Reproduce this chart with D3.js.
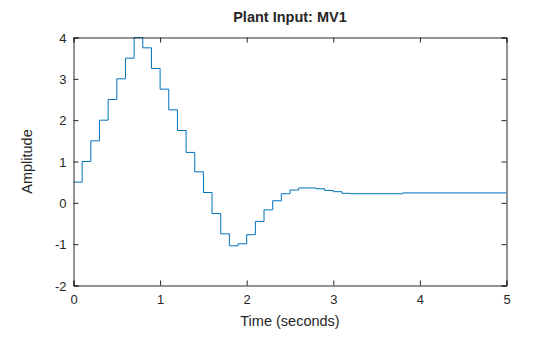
<!DOCTYPE html>
<html><head><meta charset="utf-8">
<script src="https://cdn.jsdelivr.net/npm/d3@7"></script>
<style>body{margin:0;background:#fff}svg{display:block}text{font-family:"Liberation Sans",Arial,sans-serif;fill:#262626}</style>
</head><body>
<svg id="c" width="560" height="337"></svg>
<script>
const stepTimes = [0,0.1,0.2,0.3,0.4,0.5,0.6,0.7,0.8,0.9,1.0,1.1,1.2,1.3,1.4,1.5,1.6,1.7,1.8,1.9,2.0,2.1,2.2,2.3,2.4,2.5,2.6,2.7,2.8,2.9,3.0,3.1,3.2,3.3,3.4,3.5,3.6,3.7,3.8,5.0];
const mv1 = [0.5,1.0,1.5,2.0,2.5,3.0,3.5,4.0,3.75,3.25,2.75,2.25,1.75,1.22,0.75,0.25,-0.26,-0.75,-1.04,-0.99,-0.77,-0.45,-0.17,0.05,0.22,0.31,0.36,0.36,0.34,0.30,0.27,0.23,0.22,0.22,0.22,0.22,0.22,0.22,0.24,0.24];
const xTicks = [0,1,2,3,4,5];
const yTicks = [-2,-1,0,1,2,3,4];
const title = "Plant Input: MV1";
const xLabel = "Time (seconds)";
const yLabel = "Amplitude";

const svg = d3.select("#c");
const L=73.5, R=506.5, T=37.5, B=285.5;
const x = d3.scaleLinear().domain([0,5]).range([L,R]);
const y = d3.scaleLinear().domain([-2,4]).range([B,T]);
const ax = "#262626";
const fmt = d => String(d);

const data = stepTimes.map((t,i)=>({t, v: mv1[i]}));
svg.append("defs").append("clipPath").attr("id","clip").append("rect")
  .attr("x",L).attr("y",T-1).attr("width",R-L).attr("height",B-T+2);
svg.append("path").datum(data)
  .attr("clip-path","url(#clip)")
  .attr("fill","none").attr("stroke","#0072BD").attr("stroke-width",1)
  .attr("d", d3.line().x(d=>x(d.t)).y(d=>y(d.v)).curve(d3.curveStepAfter));

const tl = 5;
const gb = svg.append("g").attr("transform",`translate(0,${B})`)
  .call(d3.axisBottom(x).tickValues(xTicks).tickSize(-tl).tickPadding(7).tickFormat(fmt));
const gt = svg.append("g").attr("transform",`translate(0,${T})`)
  .call(d3.axisTop(x).tickValues(xTicks).tickSize(-tl).tickFormat(""));
const gl = svg.append("g").attr("transform",`translate(${L},0)`)
  .call(d3.axisLeft(y).tickValues(yTicks).tickSize(-tl).tickPadding(7).tickFormat(fmt));
const gr = svg.append("g").attr("transform",`translate(${R},0)`)
  .call(d3.axisRight(y).tickValues(yTicks).tickSize(-tl).tickFormat(""));
[gb,gt,gl,gr].forEach(g=>{
  g.selectAll(".domain").attr("stroke",ax).attr("stroke-width",1);
  g.selectAll(".tick line").attr("stroke",ax);
  g.selectAll("text").attr("font-size",13).attr("fill",ax).attr("font-family","Liberation Sans, Arial, sans-serif");
});
gb.selectAll(".tick text").attr("dy","0.85em");
gl.selectAll(".tick text").attr("dy","0.35em");

svg.append("text").attr("x",(L+R)/2).attr("y",22).attr("text-anchor","middle")
  .attr("font-size",14.5).attr("font-weight","bold").text(title);
svg.append("text").attr("x",(L+R)/2).attr("y",326).attr("text-anchor","middle")
  .attr("font-size",14.5).text(xLabel);
svg.append("text").attr("transform",`translate(32,${(T+B)/2}) rotate(-90)`).attr("text-anchor","middle")
  .attr("font-size",14.5).text(yLabel);
</script>
</body></html>
